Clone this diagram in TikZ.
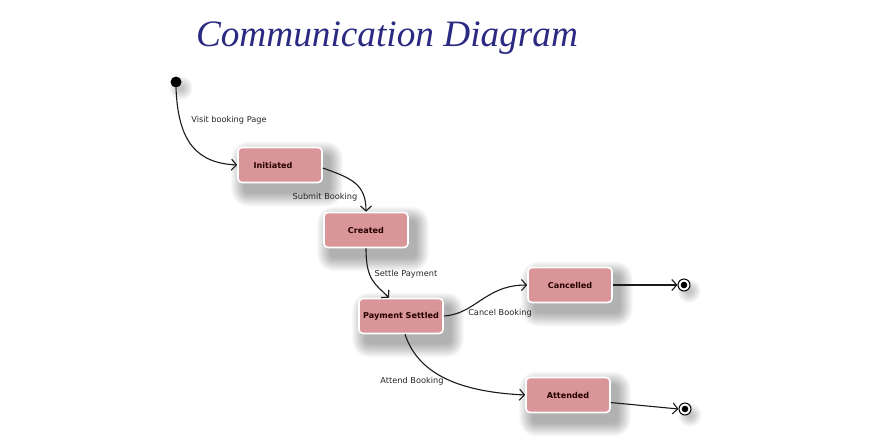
\documentclass[tikz,border=0pt]{standalone}
\usepackage{fontspec}
\usepackage{graphicx}
\setmainfont{DejaVu Sans}
\newfontfamily\titlefont{Liberation Serif}
\usetikzlibrary{arrows.meta,backgrounds}
\definecolor{boxfill}{HTML}{D99598}
\definecolor{titleblue}{HTML}{2B2A82}
\definecolor{edgecol}{HTML}{1A1A1A}
\tikzset{
  statebox/.style={draw=white, line width=1.6pt, fill=boxfill, rounded corners=4pt,
    minimum width=84pt, minimum height=35pt, inner sep=0pt,
    font=\fontsize{8.1}{9}\selectfont\bfseries, text=black!85!red},
  initdot/.style={circle, fill=black, minimum size=11pt, inner sep=0pt},
  finaldot/.style={circle, draw=black, line width=1pt, fill=white, minimum size=12pt, inner sep=0pt,
    path picture={\fill[black] (path picture bounding box.center) circle (3.3pt);}},
  trans/.style={draw=edgecol, line width=1.1pt, -{Straight Barb[length=5pt,width=11pt,line width=1.1pt]}},
  tlabel/.style={font=\fontsize{8.2}{9}\selectfont, text=black!85, inner sep=1pt},
  shadowlayer/.style={fill=black, opacity=0.022}
}
\newcommand\softshadow[2]{% node, max spread
  \foreach \k in {1,...,#2} {
    \fill[shadowlayer, rounded corners=3pt+\k pt]
      ([shift={(8pt-\k pt,-9pt+\k pt)}]#1.north west) rectangle ([shift={(6pt+\k pt,-9pt-\k pt)}]#1.south east);
  }}
\newcommand\softdot[3]{% node, radius, spread
  \foreach \k in {1,...,#3} {
    \fill[shadowlayer] ([shift={(5pt,-6pt)}]#1.center) circle (#2+\k pt);
  }}
\begin{document}
\begin{tikzpicture}[x=1pt,y=-1pt]
\useasboundingbox (0,0) rectangle (870,445);
% title
\node[text=titleblue] (title) at (387,38)
  {\resizebox{382pt}{!}{\titlefont\itshape Communication Diagram}};
% states
\node[initdot] (start) at (176,82) {};
\node[statebox] (initiated) at (280,165) {\hspace*{-14pt}Initiated};
\node[statebox] (created) at (366,230) {Created};
\node[statebox] (paid) at (401,316) {Payment Settled};
\node[statebox] (cancelled) at (570,285) {Cancelled};
\node[statebox] (attended) at (568,395) {Attended};
\node[finaldot] (end1) at (684,285) {};
\node[finaldot] (end2) at (685,409) {};
\begin{pgfonlayer}{background}
  \fill[white] (0,0) rectangle (870,445);
  \softshadow{initiated}{14}
  \softshadow{created}{14}
  \softshadow{paid}{14}
  \softshadow{cancelled}{14}
  \softshadow{attended}{14}
  \softdot{start}{2pt}{10}
  \softdot{end1}{2pt}{10}
  \softdot{end2}{2pt}{10}
\end{pgfonlayer}
% transitions
\draw[trans] (start.south) .. controls +(2,55) and +(-40,-2) .. (initiated.west);
\draw[trans] ([yshift=-3pt]initiated.east) .. controls +(28,10) and +(0,-28) .. (created.north);
\draw[trans] (created.south) .. controls +(0,32) and +(-14,-14) .. ([xshift=-12pt]paid.north);
\draw[trans] (paid.east) .. controls +(32,-2) and +(-42,0) .. (cancelled.west);
\draw[trans] ([xshift=4pt]paid.south) .. controls +(14,42) and +(-62,-3) .. (attended.west);
\draw[trans] (cancelled.east) -- (end1.west);
\draw[trans] (attended.-10) -- (end2.west);
% labels
\node[tlabel] (l1) at (229,120) {Visit booking Page};
\node[tlabel] (l2) at (325,197) {Submit Booking};
\node[tlabel] (l3) at (406,274) {Settle Payment};
\node[tlabel] (l4) at (500,313) {Cancel Booking};
\node[tlabel] (l5) at (412,381) {Attend Booking};
\end{tikzpicture}
\end{document}
